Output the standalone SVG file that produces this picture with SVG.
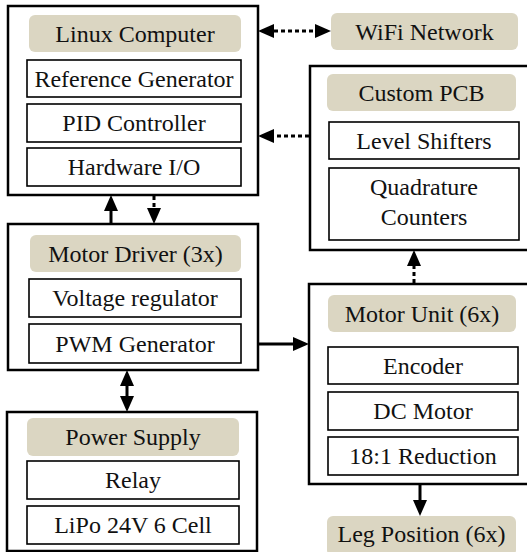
<svg xmlns="http://www.w3.org/2000/svg" width="527" height="552" viewBox="0 0 527 552">
<style>
.o{fill:#fff;stroke:#000;stroke-width:2.5}
.h{fill:#dbd6c2}
.i{fill:#fff;stroke:#000;stroke-width:1.6}
.d{stroke-dasharray:4 3}
</style>
<defs>
<marker id="ah" viewBox="0 0 16 14" refX="0" refY="7" markerWidth="16" markerHeight="14" markerUnits="userSpaceOnUse" orient="auto-start-reverse">
<path d="M0,0 L16,7 L0,14 Z" fill="#000"/>
</marker>
</defs>
<rect x="0" y="0" width="527" height="552" fill="#fff"/>
<g id="linux">
<rect class="o" x="8" y="6" width="250" height="189"/>
<rect class="h" x="29" y="15" width="212" height="37" rx="6"/>
<text font-family="Liberation Serif" font-size="24" fill="#111" text-anchor="middle" x="135" y="41.5">Linux Computer</text>
<rect class="i" x="27" y="60" width="214" height="37"/>
<text font-family="Liberation Serif" font-size="24" fill="#111" text-anchor="middle" x="134" y="86.5">Reference Generator</text>
<rect class="i" x="27" y="104" width="214" height="38"/>
<text font-family="Liberation Serif" font-size="24" fill="#111" text-anchor="middle" x="134" y="131">PID Controller</text>
<rect class="i" x="27" y="148" width="214" height="38"/>
<text font-family="Liberation Serif" font-size="24" fill="#111" text-anchor="middle" x="134" y="175">Hardware I/O</text>
</g>

<g id="wifi">
<rect class="h" x="331" y="13" width="187" height="37" rx="6"/>
<text font-family="Liberation Serif" font-size="24" fill="#111" text-anchor="middle" x="424.5" y="39.5">WiFi Network</text>
</g>

<g id="pcb">
<rect class="o" x="310" y="66" width="225" height="184"/>
<rect class="h" x="327" y="74" width="189" height="37" rx="6"/>
<text font-family="Liberation Serif" font-size="24" fill="#111" text-anchor="middle" x="421.5" y="100.5">Custom PCB</text>
<rect class="i" x="329" y="122" width="190" height="37"/>
<text font-family="Liberation Serif" font-size="24" fill="#111" text-anchor="middle" x="424" y="148.5">Level Shifters</text>
<rect class="i" x="329" y="168" width="190" height="72"/>
<text font-family="Liberation Serif" font-size="24" fill="#111" text-anchor="middle" x="424" y="195">Quadrature</text>
<text font-family="Liberation Serif" font-size="24" fill="#111" text-anchor="middle" x="424" y="225">Counters</text>
</g>

<g id="driver">
<rect class="o" x="8" y="224" width="250" height="146"/>
<rect class="h" x="30" y="235" width="211" height="37" rx="6"/>
<text font-family="Liberation Serif" font-size="24" fill="#111" text-anchor="middle" x="135.5" y="261.5">Motor Driver (3x)</text>
<rect class="i" x="29" y="279" width="212" height="38"/>
<text font-family="Liberation Serif" font-size="24" fill="#111" text-anchor="middle" x="135" y="306">Voltage regulator</text>
<rect class="i" x="29" y="324" width="212" height="39"/>
<text font-family="Liberation Serif" font-size="24" fill="#111" text-anchor="middle" x="135" y="351.5">PWM Generator</text>
</g>

<g id="motor">
<rect class="o" x="309" y="284" width="225" height="200"/>
<rect class="h" x="328" y="295" width="188" height="37" rx="6"/>
<text font-family="Liberation Serif" font-size="24" fill="#111" text-anchor="middle" x="422" y="321.5">Motor Unit (6x)</text>
<rect class="i" x="328" y="347" width="190" height="37"/>
<text font-family="Liberation Serif" font-size="24" fill="#111" text-anchor="middle" x="423" y="373.5">Encoder</text>
<rect class="i" x="328" y="392" width="190" height="38"/>
<text font-family="Liberation Serif" font-size="24" fill="#111" text-anchor="middle" x="423" y="419">DC Motor</text>
<rect class="i" x="328" y="437" width="190" height="38"/>
<text font-family="Liberation Serif" font-size="24" fill="#111" text-anchor="middle" x="423" y="464">18:1 Reduction</text>
</g>

<g id="leg">
<rect class="h" x="327" y="516" width="189" height="40" rx="6"/>
<text font-family="Liberation Serif" font-size="24" fill="#111" text-anchor="middle" x="421.5" y="542">Leg Position (6x)</text>
</g>

<g id="power">
<rect class="o" x="7" y="412" width="250" height="139"/>
<rect class="h" x="27" y="418" width="212" height="38" rx="6"/>
<text font-family="Liberation Serif" font-size="24" fill="#111" text-anchor="middle" x="133" y="445">Power Supply</text>
<rect class="i" x="27" y="461" width="212" height="38"/>
<text font-family="Liberation Serif" font-size="24" fill="#111" text-anchor="middle" x="133" y="488">Relay</text>
<rect class="i" x="27" y="506" width="212" height="38"/>
<text font-family="Liberation Serif" font-size="24" fill="#111" text-anchor="middle" x="133" y="533">LiPo 24V 6 Cell</text>
</g>

<g id="connectors" fill="none" stroke="#000" stroke-width="3">
<path class="d" d="M274,31 L315,31" marker-start="url(#ah)" marker-end="url(#ah)"/>
<path class="d" d="M309,136 L274,136" marker-end="url(#ah)"/>
<path d="M111,223 L111,211" marker-end="url(#ah)"/>
<path class="d" d="M154,196 L154,208" marker-end="url(#ah)"/>
<path d="M259,344 L293,344" marker-end="url(#ah)"/>
<path d="M420,485 L420,500" marker-end="url(#ah)"/>
<path class="d" d="M414,283 L414,266" marker-end="url(#ah)"/>
<path d="M127,386 L127,396" marker-start="url(#ah)" marker-end="url(#ah)"/>
</g>
</svg>
